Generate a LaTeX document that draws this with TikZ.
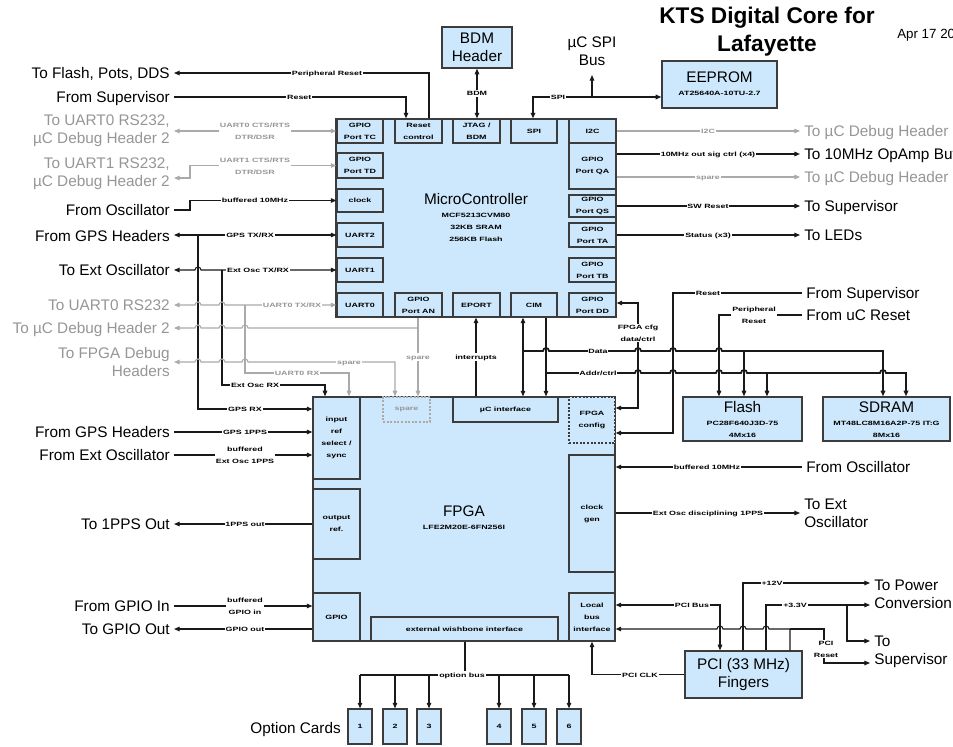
\documentclass[tikz,border=0pt]{standalone}
\usepackage{fontspec}
\setmainfont{Liberation Sans}
\newfontfamily\lblfont{Liberation Sans}[FakeStretch=1.45]
\usetikzlibrary{arrows.meta}
\definecolor{boxfill}{RGB}{205,232,252}
\definecolor{boxline}{RGB}{60,60,60}
\definecolor{lgray}{RGB}{170,170,170}
\definecolor{tgray}{RGB}{150,150,150}
\newcommand\bx[7][]{\node[blk,#1,minimum width={(#5-#3)*0.75pt},minimum height={(#6-#4)*0.75pt}] (#2) at ({(#3+#5)/2},{(#4+#6)/2}) {#7};}
\newcommand\hopr{arc[start angle=180,end angle=0,radius=2.25pt]}
\newcommand\hopl{arc[start angle=0,end angle=180,radius=2.25pt]}
\newcommand\smallf{\lblfont\bfseries\fontsize{4.6}{9}\selectfont}
\begin{document}
\begin{tikzpicture}[x=0.75pt,y=-0.75pt,
  >={Triangle[length=4.2pt,width=3.4pt]},
  blk/.style={draw=boxline,fill=boxfill,line width=1pt,inner sep=0pt,align=center,font=\fontsize{11.5}{13.5}\selectfont},
  sub/.style={line width=0.9pt,font=\smallf},
  ln/.style={draw=black!90,line width=0.8pt},
  gln/.style={draw=lgray,line width=0.8pt},
  bus/.style={line width=1.3pt},
  lbl2/.style={font=\smallf,fill=white,inner sep=0.6pt,align=center,text=black},
  lbl/.style={lbl2,text height=4pt,text depth=0.7pt},
  glbl/.style={lbl,text=tgray},
  glbl2/.style={lbl2,text=tgray},
  ext/.style={font=\fontsize{11.5}{13.5}\selectfont,inner xsep=3pt,inner ysep=0pt},
  one/.style={text height=10.5pt,text depth=2.3pt},
  extL/.style={ext,anchor=east,align=right},
  extR/.style={ext,anchor=west,align=left},
  big/.style={font=\fontsize{11.5}{13.5}\selectfont,inner sep=0pt},
  sm/.style={font=\smallf,inner sep=0pt}
]
\useasboundingbox (0,0) rectangle (953,746);
\fill[white] (0,0) rectangle (953,746);

% title
\node[font=\bfseries\fontsize{17}{21}\selectfont,align=center,inner sep=0pt] (title) at (767,32) {KTS Digital Core for\\Lafayette};
\node[anchor=west,font=\fontsize{10}{11}\selectfont,inner sep=0pt] (date) at (897,35) {Apr 17 2009};

% MicroController
\bx{mc}{336}{119}{616}{317}{}
\bx[sub]{tc}{337}{119}{383}{143}{GPIO\\Port TC}
\bx[sub]{rst}{395}{119}{442}{143}{Reset\\control}
\bx[sub]{jtag}{453}{119}{500}{143}{JTAG /\\BDM}
\bx[sub]{spi}{511}{119}{557}{143}{SPI}
\bx[sub]{iic}{569}{119}{616}{143}{I2C}
\bx[sub]{td}{337}{153}{383}{178}{GPIO\\Port TD}
\bx[sub]{qa}{569}{143}{616}{189}{GPIO\\Port QA}
\bx[sub]{clk}{337}{189}{383}{212}{clock}
\bx[sub]{qs}{569}{195}{616}{217}{GPIO\\Port QS}
\bx[sub]{u2}{337}{223}{383}{247}{UART2}
\bx[sub]{ta}{569}{223}{616}{247}{GPIO\\Port TA}
\bx[sub]{u1}{337}{258}{383}{282}{UART1}
\bx[sub]{tb}{569}{258}{616}{282}{GPIO\\Port TB}
\bx[sub]{u0}{337}{293}{383}{317}{UART0}
\bx[sub]{an}{395}{293}{442}{317}{GPIO\\Port AN}
\bx[sub]{eport}{453}{293}{500}{317}{EPORT}
\bx[sub]{cim}{511}{293}{557}{317}{CIM}
\bx[sub]{dd}{569}{293}{616}{317}{GPIO\\Port DD}
\node[big] (mct) at (476,199) {MicroController};
\node[sm] (mcpn) at (476,215) {MCF5213CVM80};
\node[sm] (mcram) at (476,227) {32KB SRAM};
\node[sm] (mcfl) at (476,239) {256KB Flash};

% FPGA
\bx{fpga}{313}{397}{615}{641}{}
\bx[sub,draw=lgray,text=tgray,dash pattern=on 1.5pt off 1.2pt]{fspare}{383}{397}{430}{422}{spare}
\bx[sub]{uci}{453}{397}{558}{422}{µC interface}
\bx[sub,dash pattern=on 1.5pt off 1.2pt]{fcfg}{569}{397}{615}{443}{FPGA\\config}
\bx[sub]{iref}{313}{397}{360}{479}{input\\ref\\select /\\sync}
\bx[sub]{oref}{313}{489}{360}{559}{output\\ref.}
\bx[sub]{fgpio}{313}{593}{360}{641}{GPIO}
\bx[sub]{wb}{371}{617}{558}{641}{external wishbone interface}
\bx[sub]{cgen}{569}{455}{615}{572}{clock\\gen}
\bx[sub]{lbi}{569}{593}{615}{641}{Local\\bus\\interface}
\node[big] (fpgat) at (464,511) {FPGA};
\node[sm] (fpgapn) at (464,527) {LFE2M20E-6FN256I};

% other boxes
\bx{bdm}{442}{27}{512}{68}{BDM\\Header}
\bx{eeprom}{662}{61}{777}{108}{}
\node[big] (eet) at (719.5,77) {EEPROM};
\node[sm] (eepn) at (719.5,93) {AT25640A-10TU-2.7};
\bx{flash}{683}{397}{802}{441}{}
\node[big] (flt) at (742.5,407) {Flash};
\node[sm] (flpn) at (742.5,423) {PC28F640J3D-75};
\node[sm] (flsz) at (742.5,435) {4Mx16};
\bx{sdram}{823}{397}{950}{441}{}
\node[big] (sdt) at (886.5,407) {SDRAM};
\node[sm] (sdpn) at (886.5,423) {MT48LC8M16A2P-75 IT:G};
\node[sm] (sdsz) at (886.5,435) {8Mx16};
\bx{pci}{685}{651}{802}{698}{PCI (33 MHz)\\Fingers}

% external texts
\node[extL,one] (L1) at (174,73) {To Flash, Pots, DDS};
\node[extL,one] (L2) at (174,97) {From Supervisor};
\node[extL,text=tgray] (L3) at (174,131) {To UART0 RS232,\\µC Debug Header 2};
\node[extL,text=tgray] (L4) at (174,174) {To UART1 RS232,\\µC Debug Header 2};
\node[extL,one] (L5) at (174,210) {From Oscillator};
\node[extL,one] (L6) at (174,236) {From GPS Headers};
\node[extL,one] (L7) at (174,270) {To Ext Oscillator};
\node[extL,one,text=tgray] (L8) at (174,305) {To UART0 RS232};
\node[extL,one,text=tgray] (L9) at (174,328) {To µC Debug Header 2};
\node[extL,text=tgray] (L10) at (174,362) {To FPGA Debug\\Headers};
\node[extL,one] (L11) at (174,432) {From GPS Headers};
\node[extL,one] (L12) at (174,455) {From Ext Oscillator};
\node[extL,one] (L13) at (174,524) {To 1PPS Out};
\node[extL,one] (L14) at (174,606) {From GPIO In};
\node[extL,one] (L15) at (174,629) {To GPIO Out};
\node[extL,one] (L16) at (345,728) {Option Cards};
\node[extR,one,text=tgray] (R1) at (800,131) {To µC Debug Header};
\node[extR,one] (R2) at (800,154) {To 10MHz OpAmp Buffers};
\node[extR,one,text=tgray] (R3) at (800,177) {To µC Debug Header};
\node[extR,one] (R4) at (800,206) {To Supervisor};
\node[extR,one] (R5) at (800,235) {To LEDs};
\node[extR,one] (R6) at (802,293) {From Supervisor};
\node[extR,one] (R7) at (802,315) {From uC Reset};
\node[extR,one] (R8) at (802,467) {From Oscillator};
\node[extR] (R9) at (800,513) {To Ext\\Oscillator};
\node[extR] (R10) at (870,594) {To Power\\Conversion};
\node[extR] (R11) at (870,652) {To\\Supervisor};
\node[big,align=center] (spibus) at (592,51) {µC SPI\\Bus};
\coordinate (spitip) at (592,75);

% top connectors
\draw[ln,->] (429,0 |- rst.north) |- (L1.east) node[lbl,pos=0.7] (n1) {Peripheral Reset};
\draw[ln,->] (L2.east) -| (406,0 |- rst.north) node[lbl,pos=0.27] (n2) {Reset};
\draw[ln,<->] (bdm.south) -- (bdm.south |- jtag.north) node[lbl,midway] (n3) {BDM};
\draw[ln,bus,<->] (533,0 |- spi.north) |- (eeprom.west |- 0,97);
\draw[ln,->] (592,97) -- (spitip);
\node[lbl] (n4) at (558,97) {SPI};

% MC left
\draw[gln,<->] (L3.east |- tc.west) -- (tc.west);
\node[glbl2] (n5) at (255,131) {UART0 CTS/RTS\\DTR/DSR};
\draw[gln,<->] (L4.east |- 0,178) -- (190,178) |- (td.west);
\node[glbl2] (n6) at (255,166) {UART1 CTS/RTS\\DTR/DSR};
\draw[ln,->] (L5.east) -- (190,0 |- L5.east) |- (clk.west);
\node[lbl] (n7) at (255,200) {buffered 10MHz};
\draw[ln,<->] (L6.east |- u2.west) -- (u2.west);
\node[lbl] (n8) at (250,235) {GPS TX/RX};
\draw[ln,->] (198,0 |- u2.west) -- (198,409) -- (iref.west |- 0,409);
\node[lbl] (n9) at (245,409) {GPS RX};
\draw[ln,<->] (L7.east |- u1.west) -- (195,0 |- u1.west) \hopr -- (u1.west);
\node[lbl] (n10) at (258,270) {Ext Osc TX/RX};
\draw[ln,->] (222,0 |- u1.west) -- (222,385) -- (325,385) -- (325,0 |- fpga.north);
\node[lbl] (n11) at (255,385) {Ext Osc RX};
\draw[gln,<->] (L8.east |- u0.west) -- (195,305) \hopr -- (219,305) \hopr -- (u0.west);
\node[glbl] (n12) at (292,305) {UART0 TX/RX};
\draw[gln,->] (245,305) -- (245,373) -- (349,373) -- (349,0 |- fpga.north);
\node[glbl] (n13) at (297,373) {UART0 RX};
\draw[gln,->] (418,0 |- an.south) -- (418,0 |- fpga.north);
\node[glbl] (n14) at (418,357) {spare};
\draw[gln,->] (418,328) -- (248,328) \hopl -- (225,328) \hopl -- (201,328) \hopl -- (L9.east |- 0,328);
\draw[gln,<->] (L10.east |- 0,362) -- (195,362) \hopr -- (219,362) \hopr -- (242,362) \hopr -- (395,362) -- (395,0 |- fpga.north);
\node[glbl] (n15) at (349,362) {spare};

% MC right
\draw[gln,->] (iic.east) -- (R1.west |- iic.east);
\node[glbl] (n16) at (708,131) {I2C};
\draw[ln,bus,->] (qa.east |- 0,154) -- (R2.west |- 0,154);
\node[lbl] (n17) at (708,154) {10MHz out sig ctrl (x4)};
\draw[gln,->] (qa.east |- 0,177) -- (R3.west |- 0,177);
\node[glbl] (n18) at (708,177) {spare};
\draw[ln,->] (qs.east) -- (R4.west |- qs.east);
\node[lbl] (n19) at (708,206) {SW Reset};
\draw[ln,->] (ta.east) -- (R5.west |- ta.east);
\node[lbl] (n20) at (708,235) {Status (x3)};

% resets and config
\draw[ln,->] (R6.west) -- (673,0 |- R6.west) -- (673,433) -- (fcfg.east |- 0,433);
\node[lbl] (n21) at (708,293) {Reset};
\draw[ln,->] (R7.west) -- (719,0 |- R7.west) -- (719,0 |- flash.north);
\node[lbl2] (n22) at (754,315) {Peripheral\\Reset};
\draw[ln,<->] (dd.east |- 0,303) -- (638,303) -- (638,408) -- (fcfg.east |- 0,408);
\node[lbl2] (n23) at (638,333) {FPGA cfg\\data/ctrl};

% data / addr / interrupts
\draw[ln,<->] (523,0 |- cim.south) -- (523,0 |- uci.north);
\draw[ln,bus,->] (523,351) -- (543,351) \hopr -- (635,351) \hopr -- (670,351) \hopr -- (716,351) \hopr -- (883,351) -- (883,0 |- sdram.north);
\draw[ln,->] (744,351) -- (744,0 |- flash.north);
\node[lbl] (n24) at (598,351) {Data};
\draw[ln,->] (546,0 |- cim.south) -- (546,0 |- uci.north);
\draw[ln,bus,->] (546,373) -- (635,373) \hopr -- (670,373) \hopr -- (716,373) \hopr -- (741,373) \hopr -- (880,373) \hopr -- (906,373) -- (906,0 |- sdram.north);
\draw[ln,->] (767,373) -- (767,0 |- flash.north);
\node[lbl] (n25) at (598,373) {Addr/ctrl};
\draw[ln,->] (476,0 |- uci.north) -- (476,0 |- eport.south);
\node[lbl] (n26) at (476,357) {interrupts};

% FPGA left
\draw[ln,->] (L11.east) -- (iref.west |- L11.east);
\node[lbl] (n27) at (245,432) {GPS 1PPS};
\draw[ln,->] (L12.east) -- (iref.west |- L12.east);
\node[lbl2] (n28) at (245,455) {buffered\\Ext Osc 1PPS};
\draw[ln,->] (oref.west) -- (L13.east |- oref.west);
\node[lbl] (n29) at (245,524) {1PPS out};
\draw[ln,->] (L14.east) -- (fgpio.west |- L14.east);
\node[lbl2] (n30) at (245,606) {buffered\\GPIO in};
\draw[ln,->] (fgpio.west |- L15.east) -- (L15.east);
\node[lbl] (n31) at (245,629) {GPIO out};

% FPGA right
\draw[ln,->] (R8.west) -- (cgen.east |- R8.west);
\node[lbl] (n32) at (707,467) {buffered 10MHz};
\draw[ln,->] (cgen.east |- R9.west) -- (R9.west);
\node[lbl] (n33) at (708,513) {Ext Osc disciplining 1PPS};

% PCI
\draw[ln,<->] (lbi.east |- 0,605) -- (720,605) -- (720,0 |- pci.north);
\node[lbl] (n34) at (692,605) {PCI Bus};
\draw[ln,->] (743,0 |- pci.north) -- (743,583) -- (R10.west |- 0,583);
\node[lbl] (n35) at (772,583) {+12V};
\draw[ln,->] (766,0 |- pci.north) -- (766,605) -- (R10.west |- 0,605);
\draw[ln,->] (847,605) -- (847,641) -- (R11.west |- 0,641);
\node[lbl] (n36) at (795,605) {+3.3V};
\draw[ln,->] (790,0 |- pci.north) -- (790,629) -- (769,629) \hopl -- (746,629) \hopl -- (723,629) \hopl -- (lbi.east |- 0,629);
\draw[ln,->] (790,629) -- (824,629) -- (824,663) -- (R11.west |- 0,663);
\node[lbl2] (n37) at (826,649) {PCI\\Reset};
\draw[ln,->] (pci.west) -- (592,0 |- pci.west) -- (592,0 |- lbi.south);
\node[lbl] (n38) at (640,675) {PCI CLK};

% option bus
\draw[ln] (465,0 |- wb.south) -- (465,675);
\draw[ln] (360,675) -- (569,675);
\foreach \i/\x in {1/360,2/395,3/429,4/499,5/534,6/569}{
  \node[blk,sub,minimum width=18pt,minimum height=26.25pt] (c\i) at (\x,726.5) {\i};
  \draw[ln,->] (\x,675) -- (c\i.north);
}
\node[lbl] (n39) at (462,675) {option bus};
\end{tikzpicture}
\end{document}
